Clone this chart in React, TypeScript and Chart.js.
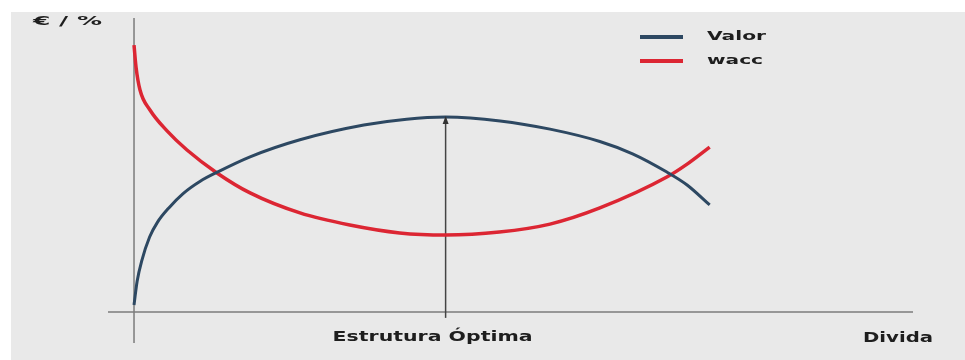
import React, { useEffect, useRef } from "react";
import { Chart, registerables } from "chart.js";

Chart.register(...registerables);

const valorDebt = [0, 0.4, 1, 2, 3, 4.5, 6.3, 8.5, 10.7, 14.9, 21.3, 29.5, 35, 40, 47, 53.4, 59.8, 64, 68.4, 71, 73.9];
const valorValues = [2.4, 10.5, 17.5, 25.5, 30.5, 35.5, 40.3, 44.5, 47.6, 52.8, 58.6, 63.6, 65.6, 66.3, 65.0, 62.2, 58.0, 53.8, 47.6, 43.2, 36.4];
const waccDebt = [0, 0.26, 0.77, 2.05, 4.24, 6.8, 10.65, 14.9, 21.3, 27.7, 34.1, 40, 46.9, 53.4, 59.8, 68.4, 71, 73.9];
const waccValues = [90.8, 83.3, 75.5, 68.7, 61.6, 55.1, 47.3, 40.5, 33.7, 29.6, 26.9, 26.2, 27.2, 29.9, 35.4, 45.9, 50.3, 56.1];
const optimalDebt = 40;
const optimalValor = 66.3;
const seriesLabels = ["Valor", "wacc"];
const yAxisTitle = "€ / %";
const xTickLabel = "Estrutura Óptima";
const xAxisTitle = "Divida";

const BLUE = "#2d4862";
const RED = "#dc2633";
const AXIS = "#7c7c7c";
const TEXT = "#1e1e1e";
const FONT = "'DejaVu Sans', Verdana, sans-serif";

function stretchText(ctx: CanvasRenderingContext2D, text: string, x: number, y: number, width: number, size: number) {
  ctx.save();
  ctx.font = `bold ${size}px ${FONT}`;
  ctx.fillStyle = TEXT;
  ctx.textBaseline = "middle";
  ctx.textAlign = "left";
  const w = ctx.measureText(text).width;
  ctx.translate(x, y);
  ctx.scale(width / w, 1);
  ctx.fillText(text, 0, 0);
  ctx.restore();
}

const decorPlugin = {
  id: "decor",
  beforeDraw(chart: any) {
    const ctx = chart.ctx as CanvasRenderingContext2D;
    ctx.save();
    ctx.fillStyle = "#ffffff";
    ctx.fillRect(0, 0, chart.width, chart.height);
    ctx.fillStyle = "#e9e9e9";
    ctx.fillRect(11, 12, chart.width - 11, chart.height - 12);
    const xs = chart.scales.x;
    const ys = chart.scales.y;
    const ca = chart.chartArea;
    const x0 = xs.getPixelForValue(0);
    const y0 = ys.getPixelForValue(0);
    ctx.strokeStyle = AXIS;
    ctx.lineWidth = 1.5;
    ctx.beginPath();
    ctx.moveTo(ca.left, y0);
    ctx.lineTo(ca.right, y0);
    ctx.moveTo(x0, ca.top);
    ctx.lineTo(x0, ca.bottom);
    ctx.stroke();
    ctx.restore();
  },
  afterDatasetsDraw(chart: any) {
    const ctx = chart.ctx as CanvasRenderingContext2D;
    const xs = chart.scales.x;
    const ca = chart.chartArea;
    const meta = chart.getDatasetMeta(2);
    const tip = meta.data[1];
    ctx.save();
    ctx.fillStyle = "#333";
    ctx.beginPath();
    ctx.moveTo(tip.x, tip.y - 1);
    ctx.lineTo(tip.x - 3, tip.y + 7);
    ctx.lineTo(tip.x + 3, tip.y + 7);
    ctx.closePath();
    ctx.fill();
    ctx.restore();

    const lx = 640;
    const legendRows = [
      { label: seriesLabels[0], color: BLUE, y: 37, w: 59 },
      { label: seriesLabels[1], color: RED, y: 61, w: 56 },
    ];
    legendRows.forEach((r) => {
      ctx.save();
      ctx.strokeStyle = r.color;
      ctx.lineWidth = 4;
      ctx.beginPath();
      ctx.moveTo(lx, r.y);
      ctx.lineTo(lx + 43, r.y);
      ctx.stroke();
      ctx.restore();
      stretchText(ctx, r.label, lx + 67, r.y, r.w, 13);
    });

    stretchText(ctx, yAxisTitle, 33, 22, 69, 13);
    const optX = xs.getPixelForValue(optimalDebt);
    stretchText(ctx, xTickLabel, optX - 113, ca.bottom - 6, 200, 14);
    stretchText(ctx, xAxisTitle, ca.right - 50, ca.bottom - 5, 70, 14);
  },
};

export default function App() {
  const ref = useRef<HTMLCanvasElement | null>(null);
  useEffect(() => {
    if (!ref.current) return;
    const chart = new Chart(ref.current, {
      type: "line",
      data: {
        datasets: [
          {
            label: seriesLabels[0],
            data: valorDebt.map((x, i) => ({ x, y: valorValues[i] })),
            borderColor: BLUE,
            borderWidth: 3,
            pointRadius: 0,
            cubicInterpolationMode: "monotone",
            fill: false,
          },
          {
            label: seriesLabels[1],
            data: waccDebt.map((x, i) => ({ x, y: waccValues[i] })),
            borderColor: RED,
            borderWidth: 3.5,
            pointRadius: 0,
            cubicInterpolationMode: "monotone",
            fill: false,
          },
          {
            label: "arrow",
            data: [
              { x: optimalDebt, y: -2 },
              { x: optimalDebt, y: optimalValor },
            ],
            borderColor: "#444",
            borderWidth: 1.5,
            pointRadius: 0,
            fill: false,
          },
        ],
      },
      options: {
        animation: false,
        responsive: false,
        maintainAspectRatio: false,
        layout: { padding: { left: 108, right: 52, top: 18, bottom: 17 } },
        plugins: { legend: { display: false }, tooltip: { enabled: false } },
        scales: {
          x: { type: "linear", min: -3.34, max: 100, display: false },
          y: { type: "linear", min: -10.54, max: 100, display: false },
        },
      },
      plugins: [decorPlugin],
    });
    return () => chart.destroy();
  }, []);
  return (
    <div style={{ position: "fixed", left: 0, top: 0, width: 965, height: 360 }}>
      <canvas ref={ref} width={965} height={360} style={{ width: 965, height: 360, display: "block" }} />
    </div>
  );
}
